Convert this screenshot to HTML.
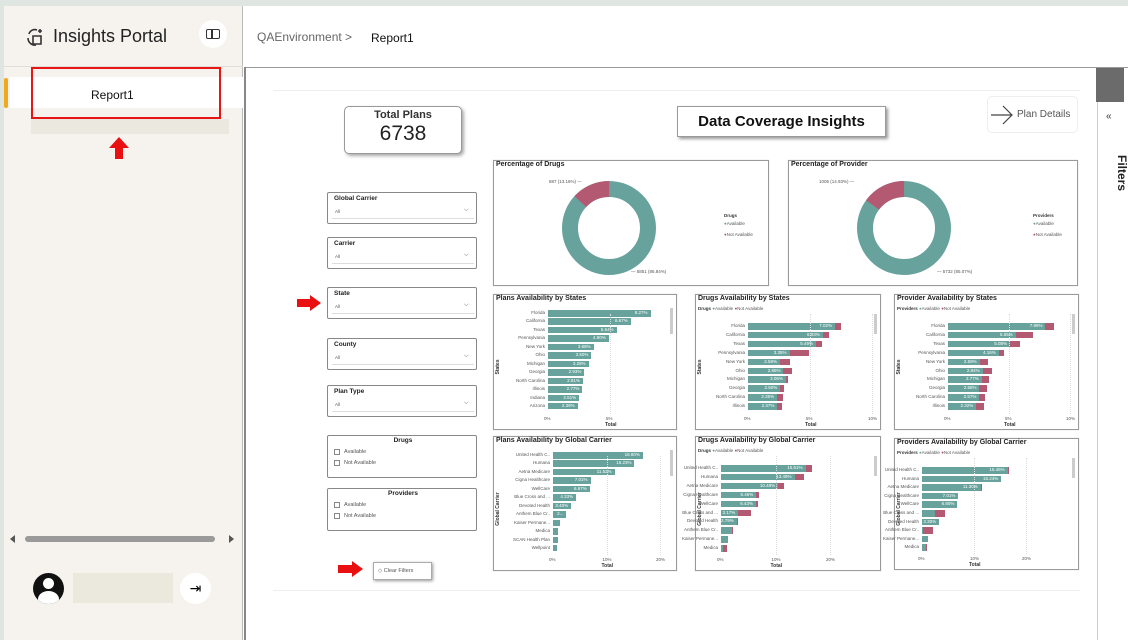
<!DOCTYPE html>
<html><head><meta charset="utf-8"><style>
*{box-sizing:border-box;margin:0;padding:0}
body{width:1128px;height:640px;overflow:hidden;background:#dfe6e2;font-family:"Liberation Sans",sans-serif;position:relative}
.a{position:absolute}
.card{position:absolute;background:#fff;border:1px solid #9a9a9a;box-shadow:0 0 1px #ccc}
.t{position:absolute;font-size:7px;font-weight:bold;color:#222;white-space:nowrap}
.s{position:absolute;font-size:4.5px;color:#555;white-space:nowrap}
.sl{position:absolute;background:#fff;border:1px solid #888;border-radius:2px}
</style></head><body>
<div class="a" style="left:4px;top:6px;width:1124px;height:634px;background:#fff"></div>
<!-- sidebar -->
<div class="a" style="left:4px;top:6px;width:239px;height:634px;background:#f6f3ee;border-right:1px solid #bbb"></div>
<div class="a" style="left:4px;top:66px;width:239px;height:1px;background:#e0ddd6"></div>
<svg class="a" style="left:25px;top:26px" width="22" height="22" viewBox="0 0 22 22"><path d="M4 8 a6 6 0 0 1 8-4 M3 12 a7 7 0 0 0 8 7 M8 10 h8 v8 h-8z M15 3 v4 M13 5 h4" stroke="#333" stroke-width="1.6" fill="none"/></svg>
<div class="a" style="left:53px;top:26px;font-size:18px;color:#222">Insights Portal</div>
<div class="a" style="left:199px;top:20px;width:28px;height:28px;border-radius:50%;background:#fff"></div>
<div class="a" style="left:206px;top:29px;width:14px;height:10px;border:1.5px solid #333;border-radius:2px"></div>
<div class="a" style="left:211px;top:29px;width:1.5px;height:10px;background:#333"></div>
<div class="a" style="left:10px;top:77px;width:233px;height:31px;background:#fff"></div>
<div class="a" style="left:4px;top:78px;width:4px;height:30px;background:#f2a81d;border-radius:2px"></div>
<div class="a" style="left:91px;top:88px;font-size:12px;color:#111">Report1</div>
<div class="a" style="left:31px;top:67px;width:190px;height:52px;border:2px solid #e81515"></div>
<div class="a" style="left:31px;top:119px;width:198px;height:15px;background:#ebe8e0"></div>
<svg class="a" style="left:108px;top:136px" width="22" height="24"><path d="M11 1 L21 12 H15 V23 H7 V12 H1Z" fill="#e81010"/></svg>
<div class="a" style="left:25px;top:536px;width:190px;height:6px;background:#9a9a9a;border-radius:3px"></div>
<div class="a" style="left:10px;top:535px;border:4px solid transparent;border-right:5px solid #555;border-left:0"></div>
<div class="a" style="left:229px;top:535px;border:4px solid transparent;border-left:5px solid #555;border-right:0"></div>
<div class="a" style="left:33px;top:573px;width:31px;height:31px;border-radius:50%;background:#111;overflow:hidden"><div class="a" style="left:10px;top:5px;width:11px;height:11px;border-radius:50%;background:#fff"></div><div class="a" style="left:5px;top:18px;width:21px;height:16px;border-radius:50%;background:#fff"></div></div>
<div class="a" style="left:73px;top:573px;width:100px;height:30px;background:#ebe8de"></div>
<div class="a" style="left:180px;top:573px;width:31px;height:31px;border-radius:50%;background:#fff;font-size:14px;text-align:center;line-height:31px">⇥</div>
<!-- header -->
<div class="a" style="left:257px;top:30px;font-size:12px;color:#666">QAEnvironment &gt;</div>
<div class="a" style="left:371px;top:31px;font-size:12px;color:#111">Report1</div>
<div class="a" style="left:244px;top:67px;width:884px;height:1px;background:#999"></div>
<div class="a" style="left:244px;top:67px;width:1.5px;height:573px;background:#888"></div>
<!-- filters pane -->
<div class="a" style="left:1096px;top:68px;width:28px;height:34px;background:#6b6b6b"></div>
<div class="a" style="left:1097px;top:102px;width:1px;height:538px;background:#ccc"></div>
<div class="a" style="left:1106px;top:111px;font-size:10px;color:#333">«</div>
<div class="a" style="left:1104px;top:166px;font-size:12px;font-weight:bold;transform:rotate(90deg);color:#222">Filters</div>
<!-- canvas -->
<div class="a" style="left:273px;top:90px;width:807px;height:1px;background:#eee"></div>
<div class="a" style="left:273px;top:590px;width:807px;height:1px;background:#eee"></div>
<div class="a" style="left:344px;top:106px;width:118px;height:48px;border:1px solid #999;border-radius:5px;box-shadow:2px 2px 3px #aaa;background:#fff;text-align:center">
<div style="font-size:11px;font-weight:bold;color:#333;margin-top:2px">Total Plans</div><div style="font-size:21px;color:#222;margin-top:1px">6738</div></div>
<div class="a" style="left:677px;top:106px;width:209px;height:31px;border:1px solid #999;box-shadow:2px 2px 3px #999;background:#fff;text-align:center;font-size:15px;font-weight:bold;line-height:29px;color:#111">Data Coverage Insights</div>
<div class="a" style="left:987px;top:96px;width:91px;height:37px;border:1px solid #eee;border-radius:5px"></div>
<svg class="a" style="left:990px;top:104px" width="24" height="22"><path d="M1 11 H22 M13 2 L22 11 L13 20" stroke="#444" fill="none" stroke-width="1.2"/></svg>
<div class="a" style="left:1017px;top:109px;font-size:10px;color:#555">Plan Details</div>
<div id="root"></div>
<svg class="a" style="left:296px;top:294px" width="26" height="18"><path d="M1 5 H14 V1 L25 9 L14 17 V13 H1Z" fill="#e81010"/></svg>
<svg class="a" style="left:337px;top:560px" width="27" height="18"><path d="M1 5 H15 V1 L26 9 L15 17 V13 H1Z" fill="#e81010"/></svg>
<div class="a" style="left:373px;top:562px;width:59px;height:18px;border:1px solid #aaa;box-shadow:1px 1px 3px #999;background:#fff;font-size:5.5px;color:#555;line-height:16px;padding-left:4px">◇ Clear Filters</div>
<script>
var R=document.getElementById('root'),h='';
function d(s){h+=s}
[['Global Carrier',192],['Carrier',237],['State',287],['County',338],['Plan Type',385]].forEach(function(a){
d('<div class="sl" style="left:327px;top:'+a[1]+'px;width:150px;height:32px"><div class="t" style="left:6px;top:2px;font-size:6.5px">'+a[0]+'</div><div class="a" style="left:4px;top:12px;width:142px;height:14px;border-bottom:1px solid #ddd"></div><div class="s" style="left:7px;top:16px">All</div><div class="s" style="left:136px;top:14px;font-size:6px">⌵</div></div>');});
[['Drugs',435],['Providers',488]].forEach(function(a){
d('<div class="sl" style="left:327px;top:'+a[1]+'px;width:150px;height:43px"><div class="t" style="left:0;width:150px;text-align:center;top:1px;font-size:6.5px">'+a[0]+'</div><div class="a" style="left:6px;top:13px;width:6px;height:6px;border:1px solid #888"></div><div class="s" style="left:16px;top:13px;font-size:5.5px">Available</div><div class="a" style="left:6px;top:24px;width:6px;height:6px;border:1px solid #888"></div><div class="s" style="left:16px;top:24px;font-size:5.5px">Not Available</div></div>');});
var G='#67a39c',Rd='#b35a72';
function donut(x,w,title,leg,pct,l1,l2,l1x,l2x){
d('<div class="card" style="left:'+x+'px;top:160px;width:'+w+'px;height:126px"></div><div class="t" style="left:'+(x+3)+'px;top:161px">'+title+'</div>');
var cx=x+116,cy=228,r=39,sw=16,C=2*Math.PI*r;
d('<svg class="a" style="left:'+(cx-50)+'px;top:'+(cy-50)+'px" width="100" height="100"><circle cx="50" cy="50" r="'+r+'" fill="none" stroke="'+G+'" stroke-width="'+sw+'"/><circle cx="50" cy="50" r="'+r+'" fill="none" stroke="'+Rd+'" stroke-width="'+sw+'" stroke-dasharray="'+(C*pct)+' '+C+'" transform="rotate('+(-90-360*pct)+' 50 50)"/></svg>');
d('<div class="s" style="left:'+l1x+'px;top:179px">'+l1+' —</div><div class="s" style="left:'+l2x+'px;top:269px">— '+l2+'</div>');
var lx=x+w-45;d('<div class="s" style="left:'+lx+'px;top:213px;font-weight:bold;color:#333">'+leg+'</div><div class="s" style="left:'+lx+'px;top:221px"><span style="color:'+G+'">●</span>Available</div><div class="s" style="left:'+lx+'px;top:232px"><span style="color:'+Rd+'">●</span>Not Available</div>');}
donut(493,276,'Percentage of Drugs','Drugs',0.1316,'887 (13.16%)','5851 (86.84%)',549,631);
donut(788,290,'Percentage of Provider','Providers',0.1493,'1006 (14.93%)','5732 (85.07%)',819,937);
function bars(x,y,w,hh,title,legName,ylab,zero,ppu,ticks,y0,sp,data){
d('<div class="card" style="left:'+x+'px;top:'+y+'px;width:'+w+'px;height:'+hh+'px"></div><div class="t" style="left:'+(x+3)+'px;top:'+(y+1)+'px">'+title+'</div>');
if(legName)d('<div class="s" style="left:'+(x+3)+'px;top:'+(y+12)+'px"><b style="color:#333">'+legName+'</b> <span style="color:'+G+'">●</span>Available <span style="color:'+Rd+'">●</span>Not Available</div>');
d('<div class="s" style="left:'+(x+5-30)+'px;width:60px;text-align:center;top:'+(y+hh/2+2)+'px;transform:rotate(-90deg);font-weight:bold;color:#333;font-size:5px">'+ylab+'</div>');
data.forEach(function(r,i){var cy=y0+i*sp;
d('<div class="s" style="right:'+(1128-zero+3)+'px;top:'+(cy-3)+'px">'+r[0]+'</div>');
d('<div class="a" style="left:'+zero+'px;top:'+(cy-3)+'px;width:'+(r[1]*ppu)+'px;height:6.5px;background:'+G+'"></div>');
if(r[2])d('<div class="a" style="left:'+(zero+r[1]*ppu)+'px;top:'+(cy-3)+'px;width:'+(r[2]*ppu)+'px;height:6.5px;background:'+Rd+'"></div>');
if(r[3])d('<div class="s" style="left:'+zero+'px;width:'+(r[1]*ppu-3)+'px;text-align:right;top:'+(cy-3)+'px;color:#fff;font-size:4.5px">'+r[3]+'</div>');});
ticks.forEach(function(t,i){var tx=zero+t[0]*ppu;d('<div class="s" style="left:'+(tx-4)+'px;top:'+(y+hh-14)+'px">'+t[1]+'</div>');if(i)d('<div class="a" style="left:'+tx+'px;top:'+(y+20)+'px;height:'+(hh-36)+'px;border-left:1px dotted #ddd"></div>');});
d('<div class="s" style="left:'+(zero+ticks[1][0]*ppu-5)+'px;top:'+(y+hh-8)+'px;font-weight:bold;color:#333;font-size:5px">Total</div>');
d('<div class="a" style="left:'+(x+w-7)+'px;top:'+(y+(legName?20:14))+'px;width:3px;height:'+(legName?20:26)+'px;background:#ccc"></div>');}
bars(493,294,184,136,'Plans Availability by States','','States',548,12.4,[[0,'0%'],[5,'5%']],313,8.45,[
['Florida',8.27,0,'8.27%'],['California',6.67,0,'6.67%'],['Texas',5.54,0,'5.54%'],['Pennsylvania',4.90,0,'4.90%'],['New York',3.68,0,'3.68%'],['Ohio',3.50,0,'3.50%'],['Michigan',3.28,0,'3.28%'],['Georgia',2.93,0,'2.93%'],['North Carolina',2.81,0,'2.81%'],['Illinois',2.77,0,'2.77%'],['Indiana',2.51,0,'2.51%'],['Arizona',2.39,0,'2.39%']]);
bars(695,294,186,136,'Drugs Availability by States','Drugs','States',748,12.4,[[0,'0%'],[5,'5%'],[10,'10%']],326,8.9,[
['Florida',7.02,0.45,'7.02%'],['California',6.03,0.5,'6.03%'],['Texas',5.49,0.5,'5.49%'],['Pennsylvania',3.35,1.58,'3.35%'],['New York',2.58,0.8,'2.58%'],['Ohio',2.86,0.7,'2.86%'],['Michigan',3.06,0.2,'3.06%'],['Georgia',2.60,0.3,'2.60%'],['North Carolina',2.35,0.45,'2.35%'],['Illinois',2.37,0.4,'2.37%']]);
bars(894,294,185,136,'Provider Availability by States','Providers','States',948,12.2,[[0,'0%'],[5,'5%'],[10,'10%']],326,8.9,[
['Florida',7.99,0.7,'7.99%'],['California',5.55,1.44,'5.55%'],['Texas',5.08,0.8,'5.08%'],['Pennsylvania',4.16,0.4,'4.16%'],['New York',2.59,0.7,'2.59%'],['Ohio',2.84,0.8,'2.84%'],['Michigan',2.77,0.6,'2.77%'],['Georgia',2.58,0.6,'2.58%'],['North Carolina',2.57,0.5,'2.57%'],['Illinois',2.32,0.6,'2.32%']]);
bars(493,436,184,135,'Plans Availability by Global Carrier','','Global Carrier',553,5.35,[[0,'0%'],[10,'10%'],[20,'20%']],455,8.45,[
['United Health C..',16.8,0,'16.80%'],['Humana',15.23,0,'15.23%'],['Aetna Medicare',11.52,0,'11.52%'],['Cigna Healthcare',7.01,0,'7.01%'],['WellCare',6.87,0,'6.87%'],['Blue Cross and ...',4.33,0,'4.33%'],['Devoted Health',3.4,0,'3.40%'],['Anthem Blue Cr..',2.5,0,'2...'],['Kaiser Permane...',1.3,0,''],['Medica',1.0,0,''],['SCAN Health Plan',0.9,0,''],['Wellpoint',0.8,0,'']]);
bars(695,436,186,135,'Drugs Availability by Global Carrier','Drugs','Global Carrier',721,5.45,[[0,'0%'],[10,'10%'],[20,'20%']],468,8.9,[
['United Health C..',15.51,1.2,'15.51%'],['Humana',13.49,1.8,'13.49%'],['Aetna Medicare',10.48,1.0,'10.48%'],['Cigna Healthcare',6.46,0.5,'6.46%'],['WellCare',6.43,0.4,'6.43%'],['Blue Cross and ...',3.17,2.4,'3.17%'],['Devoted Health',2.9,0.2,'2.79%'],['Anthem Blue Cr..',2.1,0.15,''],['Kaiser Permane...',1.2,0,''],['Medica',0.45,0.6,'']]);
bars(894,438,185,132,'Providers Availability by Global Carrier','Providers','Global Carrier',922,5.2,[[0,'0%'],[10,'10%'],[20,'20%']],470,8.6,[
['United Health C..',16.46,0.1,'16.46%'],['Humana',15.24,0,'15.24%'],['Aetna Medicare',11.3,0.3,'11.30%'],['Cigna Healthcare',7.01,0,'7.01%'],['WellCare',6.8,0,'6.80%'],['Blue Cross and ...',2.5,2.0,''],['Devoted Health',3.3,0,'3.30%'],['Anthem Blue Cr..',0.1,2.1,''],['Kaiser Permane...',1.2,0,''],['Medica',0.7,0.3,'']]);
R.innerHTML=h;
</script>
</body></html>
